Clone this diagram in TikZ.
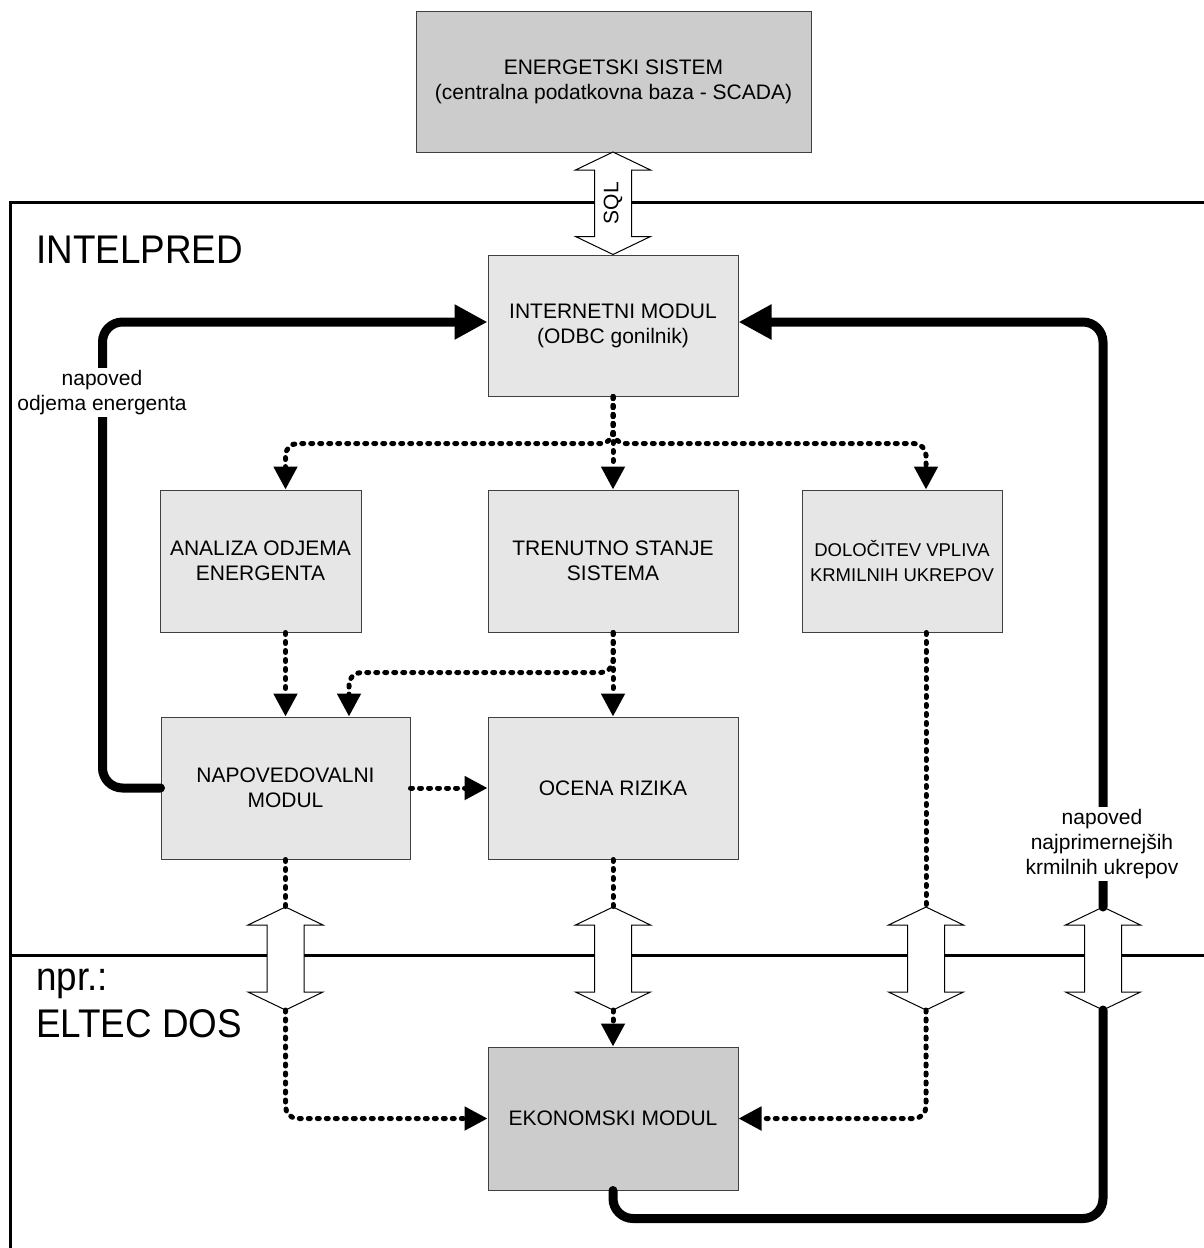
\documentclass[tikz,border=0pt]{standalone}
\usepackage{fontspec}
\usepackage{graphicx}
\setmainfont{Liberation Sans}
\usetikzlibrary{arrows.meta}
\definecolor{boxlight}{HTML}{E6E6E6}
\definecolor{boxdark}{HTML}{CCCCCC}
\newcommand\dblarrow[4]{%
  \draw[fill=white, line width=1pt] (#2,#3) -- (#2+37.5,#3+18) -- (#2+18.5,#3+18) -- (#2+18.5,#4-18) -- (#2+37.5,#4-18) -- (#2,#4) -- (#2-37.5,#4-18) -- (#2-18.5,#4-18) -- (#2-18.5,#3+18) -- (#2-37.5,#3+18) -- cycle;
  \coordinate (#1t) at (#2,#3);
  \coordinate (#1b) at (#2,#4);}
\begin{document}
\begin{tikzpicture}[x=1pt,y=-1pt,
  box/.style={draw=black!75, line width=1pt, align=center, inner sep=0pt, font=\fontsize{21}{25}\selectfont},
  lbox/.style={box, fill=boxlight, minimum width=250pt, minimum height=142pt},
  dotline/.style={line width=5pt, dash pattern=on 2pt off 7pt, line cap=round},
  dotarrow/.style={dotline, -{Triangle[length=23pt,width=23pt]}},
  heavyline/.style={line width=9pt, rounded corners=20pt, line cap=round},
  heavyarrow/.style={heavyline, -{Triangle[length=33pt,width=33pt]}},
  lbl/.style={fill=white, align=center, inner sep=2pt, font=\fontsize{21}{25}\selectfont},
  big/.style={anchor=base west, inner sep=0pt, font=\fontsize{40}{48}\selectfont}]
\useasboundingbox (0,0) rectangle (1203,1248);
% frame
\draw[line width=3pt] (1210,202) -- (10,202) -- (10,1255);
\draw[line width=3pt] (10,955) -- (1210,955);
\node[big] (ip) at (36,263) {\scalebox{0.92}[1]{INTELPRED}};
\node[big] (np) at (36,990) {\scalebox{0.92}[1]{npr.:}};
\node[big] (el) at (36,1037) {\scalebox{0.92}[1]{ELTEC DOS}};
% boxes
\node[box, fill=boxdark, minimum width=395pt, minimum height=141pt] (top) at (613.5,81.5) {ENERGETSKI SISTEM\\(centralna podatkovna baza - SCADA)};
\node[lbox, minimum height=141pt] (inet) at (613,325.5) {INTERNETNI MODUL\\(ODBC gonilnik)};
\node[lbox, minimum width=201pt] (ana) at (260.5,561) {ANALIZA ODJEMA\\ENERGENTA};
\node[lbox] (tre) at (613,561) {TRENUTNO STANJE\\SISTEMA};
\node[lbox, minimum width=200pt, font=\fontsize{18.5}{25}\selectfont] (dol) at (902,561) {DOLOČITEV VPLIVA\\KRMILNIH UKREPOV};
\node[lbox, minimum width=249pt] (nap) at (285.5,788) {NAPOVEDOVALNI\\MODUL};
\node[lbox] (oce) at (613,788) {OCENA RIZIKA};
\node[box, fill=boxdark, minimum width=250pt, minimum height=143pt] (eko) at (613,1118.5) {EKONOMSKI MODUL};
% double arrows
\dblarrow{sq}{613}{152}{254.5}
\dblarrow{da1}{285.5}{907}{1010}
\dblarrow{da2}{613}{907}{1010}
\dblarrow{da3}{926}{907}{1010}
\dblarrow{da4}{1103}{907}{1010}
\node[rotate=90, inner sep=0pt, font=\fontsize{21}{25}\selectfont] (sql) at (613,203) {SQL};
% dotted connectors
\coordinate (dolin) at ([xshift=24pt]dol.north);
\coordinate (dolout) at ([xshift=24pt]dol.south);
\draw[dotarrow, rounded corners=12pt] (inet.south) -- ++(0,47) -| (ana.north -| nap.north);
\draw[dotarrow, rounded corners=12pt] (inet.south) -- ++(0,47) -| (dolin);
\draw[dotarrow] (inet.south) -- (tre.north);
\draw[dotarrow] (ana.south -| nap.north) -- (nap.north);
\draw[dotarrow, rounded corners=12pt] (tre.south) -- ++(0,40) -| ([xshift=63.5pt]nap.north);
\draw[dotarrow] (tre.south) -- (oce.north);
\draw[dotarrow] (nap.east) -- (oce.west);
\draw[dotline] (nap.south) -- (da1t);
\draw[dotarrow, rounded corners=12pt] (da1b) |- (eko.west);
\draw[dotline] (oce.south) -- (da2t);
\draw[dotarrow] (da2b) -- (eko.north);
\draw[dotline] (dolout) -- (da3t);
\draw[dotarrow, rounded corners=12pt] (da3b) |- (eko.east);
% heavy connectors
\draw[heavyline] (eko.south) -- ++(0,28) -| (da4b);
\draw[heavyarrow] (da4t) |- ([yshift=3.5pt]inet.east);
\draw[heavyarrow] (nap.west) -- ++(-58,0) |- ([yshift=3.5pt]inet.west);
% labels
\node[lbl] (l1) at (102,392.5) {napoved\\odjema energenta};
\node[lbl] (l2) at (1102,844) {napoved\\najprimernejših\\krmilnih ukrepov};
\end{tikzpicture}
\end{document}
